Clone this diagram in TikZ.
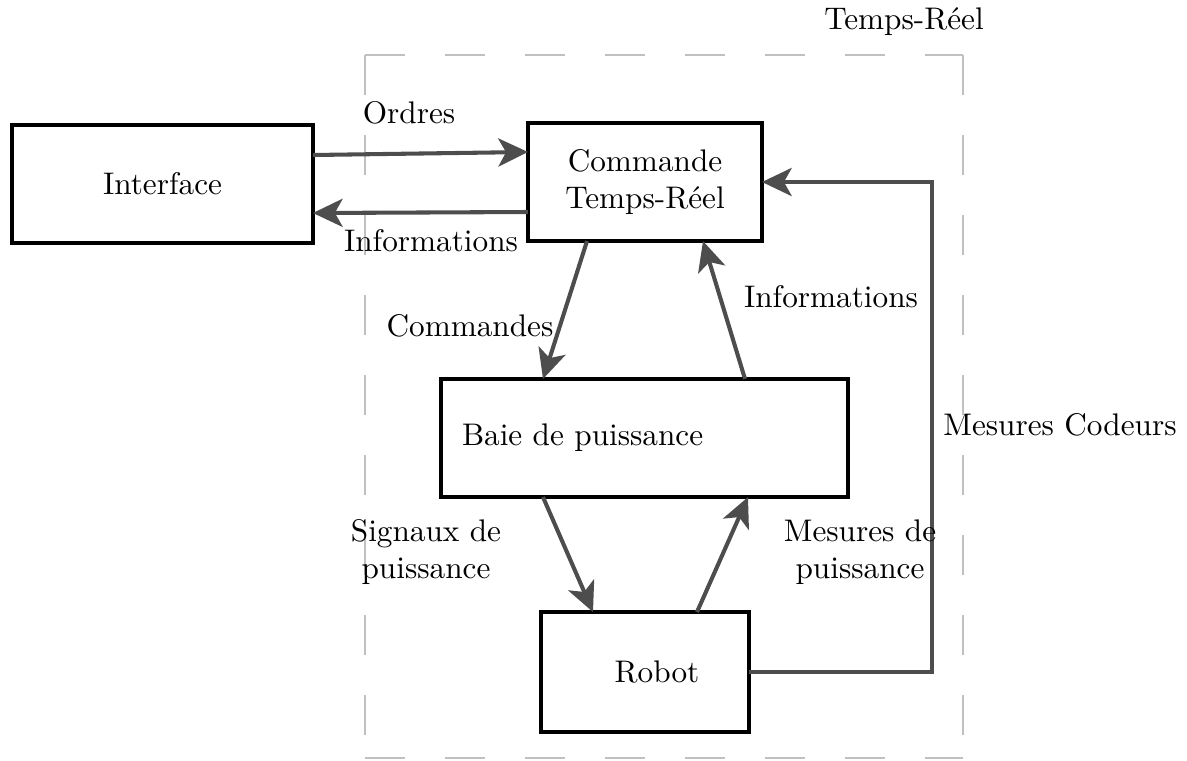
\documentclass[tikz,border=0pt]{standalone}
\usetikzlibrary{arrows.meta,calc}
\definecolor{arrowgray}{HTML}{4D4D4D}
\definecolor{dashgray}{HTML}{C0C0C0}
\begin{document}
\begin{tikzpicture}[x=0.32pt,y=-0.32pt,
  blockbox/.style={draw=black,line width=1.45pt,inner sep=0pt,outer sep=0pt,align=center},
  flow/.style={draw=arrowgray,line width=1.3pt,-{Stealth[length=9.5pt,width=9pt,inset=2.5pt]}},
  region/.style={draw=dashgray,line width=0.55pt,dash pattern=on 12.8pt off 12.8pt},
  lbl/.style={inner sep=0pt,align=center}]
\useasboundingbox (0,0) rectangle (1187,760);
% real-time region
\coordinate (rtl) at (365,55);
\coordinate (rtr) at (963,55);
\coordinate (rbl) at (365,758);
\coordinate (rbr) at (963,758);
\draw[region] (rtl) -- (rtr);
\draw[region] (rtl) -- (rbl);
\draw[region] (rtr) -- (rbr);
\draw[region] (rbl) -- (rbr);
\node[lbl] (rtlabel) at (904,22) {Temps-Réel};
% blocks
\node[blockbox,minimum width=96.3pt,minimum height=37.8pt] (interface) at (162.5,184) {Interface};
\node[blockbox,minimum width=74.9pt,minimum height=37.8pt] (commande) at (645,182) {Commande\\Temps-Réel};
\node[blockbox,align=left,text width=116.8pt,inner xsep=6.7pt,minimum height=37.8pt] (baie) at (644.5,438) {Baie de puissance};
\node[blockbox,minimum width=66.6pt,minimum height=38.4pt] (robot) at (645,672) {\hspace*{7.7pt}Robot};
% connectors
\draw[flow] ($(interface.east)+(0,-29)$) -- ($(commande.west)+(0,-30)$);
\draw[flow] ($(commande.west)+(0,30)$) -- ($(interface.east)+(0,29)$);
\draw[flow] ($(commande.south)+(-58,0)$) -- ($(baie.north)+(-101.5,0)$);
\draw[flow] ($(baie.north)+(100.5,0)$) -- ($(commande.south)+(58,0)$);
\draw[flow] ($(baie.south)+(-101.5,0)$) -- ($(robot.north)+(-52,0)$);
\draw[flow] ($(robot.north)+(52,0)$) -- ($(baie.south)+(103.5,0)$);
\draw[flow] (robot.east) -- ++(183,0) |- (commande.east);
% labels
\node[lbl] (lordres) at (409,113) {Ordres};
\node[lbl] (linfo1) at (431,241) {Informations};
\node[lbl] (lcmd) at (470,326) {Commandes};
\node[lbl] (linfo2) at (831,297) {Informations};
\node[lbl] (lsig) at (426,552) {Signaux de\\puissance};
\node[lbl] (lmes) at (860,552) {Mesures de\\puissance};
\node[lbl] (lcod) at (1060,425) {Mesures Codeurs};
\end{tikzpicture}
\end{document}
